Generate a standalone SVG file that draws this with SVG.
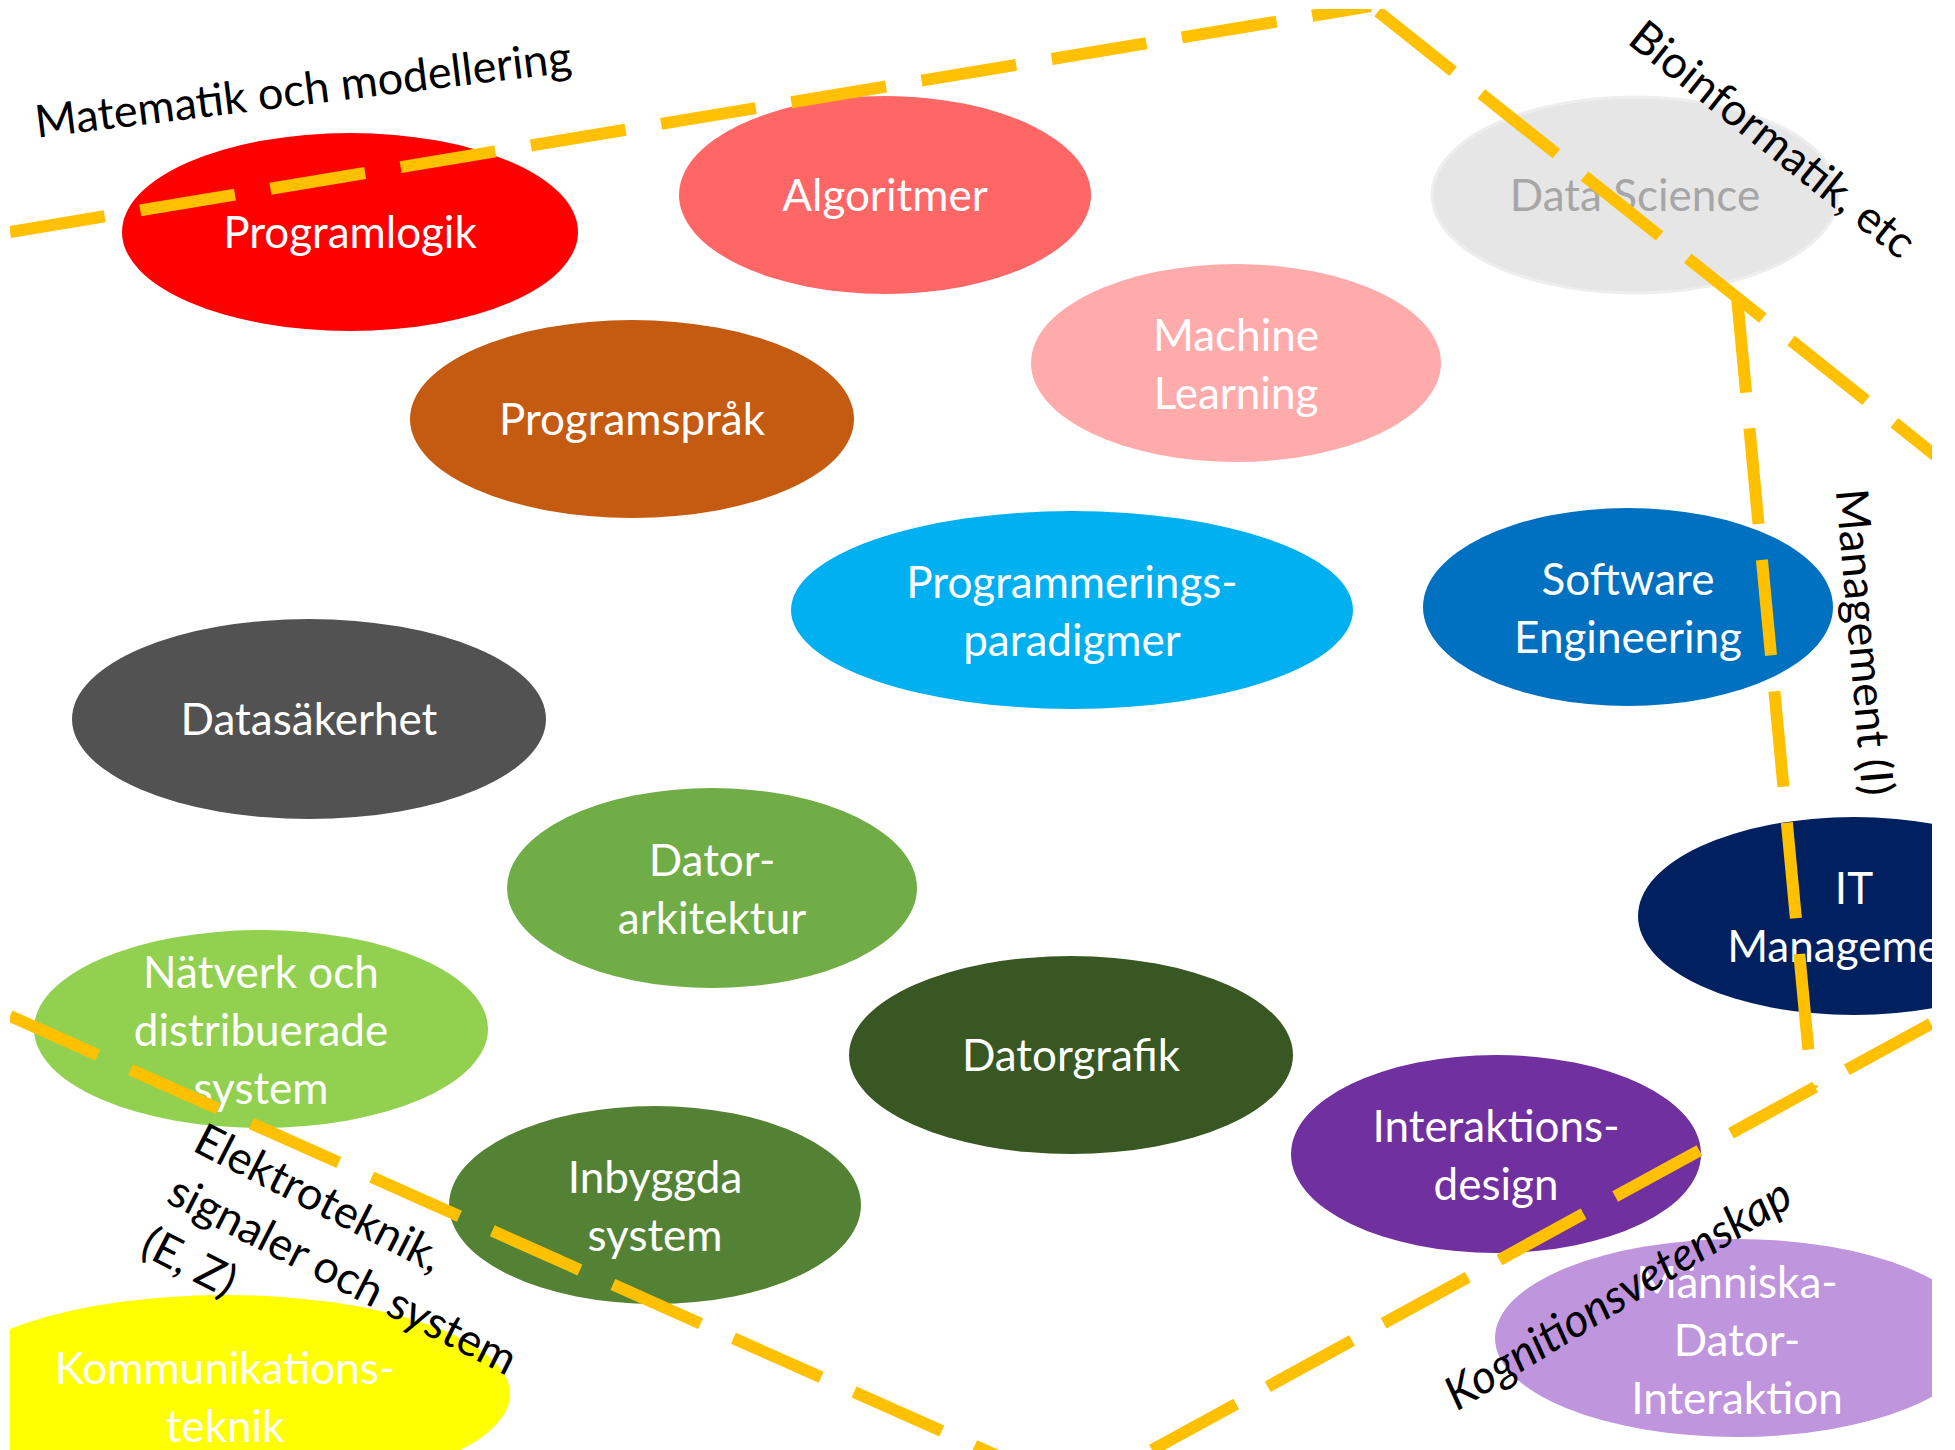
<svg xmlns="http://www.w3.org/2000/svg" width="1955" height="1450" viewBox="0 0 1955 1450">
<defs>
<clipPath id="frame"><rect x="10" y="9" width="1922" height="1441"/></clipPath>
</defs>
<style>
.t{font-family:Lato,"Open Sans","Liberation Sans",sans-serif;font-size:44px;fill:#fff;text-anchor:middle}
.lbl{font-family:Lato,"Open Sans","Liberation Sans",sans-serif;font-size:45px;fill:#000}
.dash{fill:none;stroke:#FFC000;stroke-width:12;stroke-dasharray:96 36;stroke-linecap:butt;stroke-linejoin:miter}
</style>
<rect width="1955" height="1450" fill="#fff"/>
<g clip-path="url(#frame)">
<g id="nodes">
<g id="programlogik"><ellipse cx="350" cy="232" rx="228" ry="99" fill="#FF0000"/><text class="t" x="350" y="248">Programlogik</text></g>
<g id="algoritmer"><ellipse cx="885" cy="195" rx="206" ry="99" fill="#FF6666"/><text class="t" x="885" y="211">Algoritmer</text></g>
<g id="datascience"><ellipse cx="1635" cy="195" rx="203" ry="98" fill="#E6E6E6" stroke="#EEEEEE" stroke-width="3"/><text class="t" x="1635" y="211" style="fill:#A6A6A6">Data Science</text></g>
<g id="machinelearning"><ellipse cx="1236" cy="363" rx="205" ry="99" fill="#FFABAB"/><text class="t" x="1236" y="351">Machine</text><text class="t" x="1236" y="409">Learning</text></g>
<g id="programsprak"><ellipse cx="632" cy="419" rx="222" ry="99" fill="#C55A11"/><text class="t" x="632" y="435">Programspråk</text></g>
<g id="paradigmer"><ellipse cx="1072" cy="610" rx="281" ry="99" fill="#00B0F0"/><text class="t" x="1072" y="598">Programmerings-</text><text class="t" x="1072" y="656">paradigmer</text></g>
<g id="softwareengineering"><ellipse cx="1628" cy="607" rx="205" ry="99" fill="#0070C0"/><text class="t" x="1628" y="595">Software</text><text class="t" x="1628" y="653">Engineering</text></g>
<g id="datasakerhet"><ellipse cx="309" cy="719" rx="237" ry="100" fill="#525252"/><text class="t" x="309" y="735">Datasäkerhet</text></g>
<g id="datorarkitektur"><ellipse cx="712" cy="888" rx="205" ry="100" fill="#70AD47"/><text class="t" x="712" y="876">Dator-</text><text class="t" x="712" y="934">arkitektur</text></g>
<g id="itmanagement"><ellipse cx="1854" cy="916" rx="216" ry="99" fill="#002060"/><text class="t" x="1854" y="904">IT</text><text class="t" x="1854" y="962">Management</text></g>
<g id="natverk"><ellipse cx="261" cy="1029" rx="227" ry="99" fill="#92D050"/><text class="t" x="261" y="988">Nätverk och</text><text class="t" x="261" y="1046">distribuerade</text><text class="t" x="261" y="1104">system</text></g>
<g id="datorgrafik"><ellipse cx="1071" cy="1055" rx="222" ry="99" fill="#385723"/><text class="t" x="1071" y="1071">Datorgrafik</text></g>
<g id="interaktionsdesign"><ellipse cx="1496" cy="1154" rx="205" ry="99" fill="#7030A0"/><text class="t" x="1496" y="1142">Interaktions-</text><text class="t" x="1496" y="1200">design</text></g>
<g id="inbyggda"><ellipse cx="655" cy="1205" rx="206" ry="99" fill="#548235"/><text class="t" x="655" y="1193">Inbyggda</text><text class="t" x="655" y="1251">system</text></g>
<g id="kommunikationsteknik"><ellipse cx="225" cy="1394" rx="285" ry="99" fill="#FFFF00"/><text class="t" x="225" y="1384">Kommunikations-</text><text class="t" x="225" y="1442">teknik</text></g>
<g id="mdi"><ellipse cx="1737" cy="1338" rx="242" ry="99" fill="#BF95DD"/><text class="t" x="1737" y="1298">Människa-</text><text class="t" x="1737" y="1356">Dator-</text><text class="t" x="1737" y="1414">Interaktion</text></g>
</g>
<g id="connectors">
<path class="dash" d="M 10,232 L 1371,6"/>
<path class="dash" d="M 1371,6 L 2000,507" style="stroke-dashoffset:-9"/>
<path class="dash" d="M 1737,297 L 1812,1088"/>
<path class="dash" d="M 1152,1450 L 2000,986"/>
<path class="dash" d="M 10,1016 L 1000,1457"/>
</g>
<g id="labels">
<text class="lbl" text-anchor="middle" transform="translate(303,89) rotate(-7)" y="16">Matematik och modellering</text>
<text class="lbl" text-anchor="middle" transform="translate(1773,139) rotate(38.5)" y="16">Bioinformatik, etc</text>
<text class="lbl" text-anchor="middle" transform="translate(1865,642) rotate(85)" y="16">Management (I)</text>
<text class="lbl" text-anchor="middle" font-style="italic" style="font-size:46.5px" transform="translate(1618,1294) rotate(-31.5)" y="16">Kognitionsvetenskap</text>
<text class="lbl" transform="translate(191,1150) rotate(27)"><tspan x="0" y="0">Elektroteknik,</tspan><tspan x="0" y="58">signaler och system</tspan><tspan x="0" y="116">(E, Z)</tspan></text>
</g>
</g>
</svg>
